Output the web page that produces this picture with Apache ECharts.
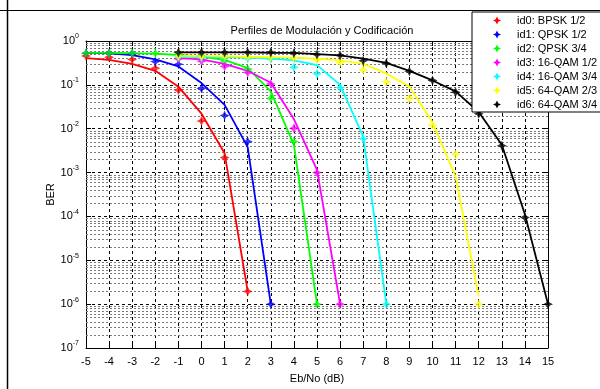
<!DOCTYPE html>
<html>
<head>
<meta charset="utf-8">
<script src="https://cdn.jsdelivr.net/npm/echarts@6/dist/echarts.min.js"></script>
<style>
  html, body { margin: 0; background: #fff; }
  #chart { width: 600px; height: 389px; }
</style>
</head>
<body>
<div id="chart"></div>
<script>
// Perfiles de modulación: BER simulada (marcadores) y teórica (líneas)
const names = ['id0: BPSK 1/2', 'id1: QPSK 1/2', 'id2: QPSK 3/4', 'id3: 16-QAM 1/2',
               'id4: 16-QAM 3/4', 'id5: 64-QAM 2/3', 'id6: 64-QAM 3/4']
const colors = ['#ff0000', '#0000ff', '#00ff00', '#ff00ff', '#00ffff', '#ffff00', '#000000']

// Eb/No (dB) de cada curva
const ebno0 = [-5, -4, -3, -2, -1, 0, 1, 2]
const ebno1 = [-5, -4, -3, -2, -1, 0, 1, 2, 3]
const ebno2 = [-5, -4, -3, -2, -1, 0, 1, 2, 3, 4, 5]
const ebno3 = [-1, 0, 1, 2, 3, 4, 5, 6]
const ebno4 = [-1, 0, 1, 2, 3, 4, 5, 6, 7, 8]
const ebno5 = [-1, 0, 1, 2, 3, 4, 5, 6, 7, 8, 9, 10, 11, 12]
const ebno6 = [-1, 0, 1, 2, 3, 4, 5, 6, 7, 8, 9, 10, 11, 12, 13, 14, 15]

// BER simulada
const sim0 = [0.457, 0.427, 0.380, 0.240, 0.076, 0.015, 0.0022, 1.95e-6]
const sim1 = [0.525, 0.525, 0.513, 0.339, 0.295, 0.083, 0.020, 0.0051, 1e-6]
const sim2 = [0.525, 0.525, 0.525, 0.525, 0.479, 0.447, 0.347, 0.229, 0.049, 0.0051, 1e-6]
const sim3 = [0.389, 0.347, 0.263, 0.191, 0.105, 0.0102, 0.001, 1e-6]
const sim4 = [0.427, 0.417, 0.417, 0.398, 0.389, 0.251, 0.178, 0.087, 0.0059, 1e-6]
const sim5 = [0.45, 0.44, 0.44, 0.43, 0.42, 0.41, 0.372, 0.324, 0.219, 0.117, 0.049, 0.012, 0.0026, 1e-6]
const sim6 = [0.55, 0.55, 0.55, 0.55, 0.55, 0.525, 0.49, 0.468, 0.355, 0.309, 0.204, 0.126, 0.068, 0.022, 0.0041, 0.000095, 1e-6]

// BER teórica
const teo0 = [0.407, 0.372, 0.302, 0.209, 0.091, 0.022, 0.00275, 1.95e-6]
const teo1 = [0.537, 0.525, 0.479, 0.380, 0.263, 0.110, 0.035, 0.0038, 1e-6]
const teo2 = [0.537, 0.537, 0.525, 0.513, 0.479, 0.437, 0.372, 0.240, 0.071, 0.0043, 1e-6]
const teo3 = [0.407, 0.380, 0.302, 0.209, 0.112, 0.0166, 0.00115, 1e-6]
const teo4 = [0.437, 0.437, 0.427, 0.417, 0.398, 0.363, 0.282, 0.100, 0.0066, 1e-6]
const teo5 = [0.457, 0.457, 0.447, 0.437, 0.427, 0.417, 0.398, 0.363, 0.302, 0.182, 0.091, 0.014, 0.00081, 1.5e-6]
const teo6 = [0.55, 0.55, 0.55, 0.55, 0.54, 0.537, 0.50, 0.468, 0.398, 0.316, 0.209, 0.126, 0.071, 0.024, 0.0043, 0.000112, 1e-6]

// líneas menores de la rejilla logarítmica (2..9 por década)
const minorMant = [2, 3, 4, 5, 6, 7, 8, 9]
const minorDecades = [-7, -6, -5, -4, -3, -2, -1]

const ebno = [ebno0, ebno1, ebno2, ebno3, ebno4, ebno5, ebno6]
const sim = [sim0, sim1, sim2, sim3, sim4, sim5, sim6]
const teo = [teo0, teo1, teo2, teo3, teo4, teo5, teo6]

const FONT = 'Liberation Sans, Arial, sans-serif'
const STAR = 'path://M5,0L6.6,3.4L10,5L6.6,6.6L5,10L3.4,6.6L0,5L3.4,3.4Z'
const X_MIN = -5, X_MAX = 15

const pair = (xs, ys) => xs.map((x, i) => [x, ys[i]])

const minorValues = []
minorDecades.forEach(d => minorMant.forEach(m => minorValues.push([X_MIN, m * Math.pow(10, d)])))

// rejilla menor, dibujada con las escalas del eje
const series = [{
  type: 'custom',
  silent: true,
  z: 1,
  animation: false,
  data: minorValues,
  renderItem: (params, api) => {
    const v = api.value(1)
    const p1 = api.coord([X_MIN, v])
    const p2 = api.coord([X_MAX, v])
    const y = Math.round(p1[1]) + 0.5
    return {
      type: 'line',
      shape: { x1: p1[0], y1: y, x2: p2[0], y2: y },
      style: { stroke: '#7a7a7a', lineDash: [2, 2], lineWidth: 1 }
    }
  }
}]

names.forEach((name, k) => {
  series.push({
    name: name,
    type: 'line',
    data: pair(ebno[k], teo[k]),
    showSymbol: false,
    symbol: 'none',
    lineStyle: { color: colors[k], width: 1.8 },
    itemStyle: { color: colors[k] },
    animation: false,
    z: 3
  })
  series.push({
    name: name,
    type: 'scatter',
    data: pair(ebno[k], sim[k]),
    symbol: STAR,
    symbolSize: 10,
    itemStyle: { color: colors[k] },
    animation: false,
    z: 4
  })
})

const chart = echarts.init(document.getElementById('chart'))

chart.setOption({
  backgroundColor: '#fff',
  animation: false,
  textStyle: { fontFamily: FONT },
  title: {
    text: 'Perfiles de Modulación y Codificación',
    left: 317,
    top: 20,
    textAlign: 'center',
    textStyle: { fontSize: 11, fontWeight: 'normal', color: '#000', fontFamily: FONT }
  },
  legend: {
    orient: 'vertical',
    left: 472,
    top: 12,
    z: 20,
    padding: [3, 10, 2, 21],
    itemGap: 3,
    itemWidth: 8,
    itemHeight: 8,
    selectedMode: false,
    backgroundColor: '#fff',
    borderColor: '#000',
    borderWidth: 1,
    borderRadius: 0,
    textStyle: { fontSize: 11, color: '#000', fontFamily: FONT, padding: [0, 0, 0, 11] },
    data: names.map(n => ({ name: n, icon: STAR }))
  },
  grid: { left: 86, right: 52, top: 41, bottom: 41 },
  xAxis: [{
    type: 'value',
    min: X_MIN,
    max: X_MAX,
    interval: 1,
    name: 'Eb/No (dB)',
    nameLocation: 'middle',
    nameGap: 25,
    nameMoveOverlap: false,
    nameTextStyle: { fontSize: 11, color: '#000', fontFamily: FONT },
    axisLine: { onZero: false, lineStyle: { color: '#000', width: 1 } },
    axisTick: { inside: true, length: 5, lineStyle: { color: '#000' } },
    axisLabel: { fontSize: 11, color: '#000', margin: 8, fontFamily: FONT },
    splitLine: { show: true, lineStyle: { color: '#000', type: [3, 3], width: 1 } }
  }, {
    type: 'value',
    position: 'top',
    min: X_MIN,
    max: X_MAX,
    interval: 1,
    axisLine: { onZero: false, lineStyle: { color: '#000', width: 1 } },
    axisTick: { inside: true, length: 5, lineStyle: { color: '#000' } },
    axisLabel: { show: false },
    splitLine: { show: false }
  }],
  yAxis: [{
    type: 'log',
    logBase: 10,
    min: 1e-7,
    max: 1,
    name: 'BER',
    nameLocation: 'middle',
    nameGap: 30,
    nameMoveOverlap: false,
    nameRotate: 90,
    nameTextStyle: { fontSize: 11, color: '#000', fontFamily: FONT },
    axisLine: { show: true, onZero: false, lineStyle: { color: '#000', width: 1 } },
    axisTick: { show: true, inside: true, length: 5, lineStyle: { color: '#000' } },
    axisLabel: {
      margin: 7,
      formatter: v => '{b|10}{e|' + Math.round(Math.log10(v)) + '}',
      rich: {
        b: { fontSize: 11, color: '#000', fontFamily: FONT },
        e: { fontSize: 7, color: '#000', fontFamily: FONT, padding: [0, 0, 9, 0] }
      }
    },
    splitLine: { show: true, lineStyle: { color: '#000', type: [3, 3], width: 1 } }
  }, {
    type: 'log',
    logBase: 10,
    min: 1e-7,
    max: 1,
    position: 'right',
    axisLine: { show: true, onZero: false, lineStyle: { color: '#000', width: 1 } },
    axisTick: { show: true, inside: true, length: 5, lineStyle: { color: '#000' } },
    axisLabel: { show: false },
    splitLine: { show: false }
  }],
  graphic: [
    { type: 'line', shape: { x1: 7.5, y1: 0, x2: 7.5, y2: 389 }, style: { stroke: '#000', lineWidth: 1.5 } },
    { type: 'line', shape: { x1: 0, y1: 10.5, x2: 600, y2: 10.5 }, style: { stroke: '#000', lineWidth: 1 } }
  ],
  series: series
})
</script>
</body>
</html>
